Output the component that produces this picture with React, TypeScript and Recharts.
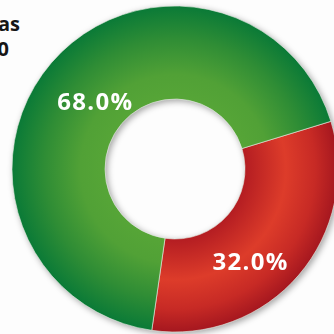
import React from "react";
import { PieChart, Pie, Cell } from "recharts";

const categories = ["B", "A"];
const values = [32.0, 68.0];
const labels = ["32.0%", "68.0%"];
const fills = ["url(#gRed)", "url(#gGreen)"];
const titleFragments = ["as", "0"];

const data = categories.map((c, i) => ({ name: c, value: values[i], label: labels[i] }));

const RAD = Math.PI / 180;
const W = 334;
const CX = 175;
const CY = 169;

const renderLabel = (props: any) => {
  const { cx, cy, midAngle, index } = props;
  const r = index === 0 ? 119 : 105;
  const a = index === 0 ? midAngle - 10 : midAngle;
  const x = cx + r * Math.cos(-a * RAD);
  const y = cy + r * Math.sin(-a * RAD);
  return (
    <text
      x={x}
      y={y}
      fill="#ffffff"
      textAnchor="middle"
      dominantBaseline="central"
      fontFamily="'Open Sans', sans-serif"
      fontWeight={700}
      fontSize={24}
      letterSpacing={1.3}
    >
      {data[index].label}
    </text>
  );
};

export default function App() {
  return (
    <div style={{ position: "relative", width: W - 16, height: W - 16 }}>
      <div style={{ position: "fixed", left: 0, top: 0, width: W, height: W, background: "#fdfdfd" }} />
      <div style={{ position: "fixed", left: 0, top: 0, filter: "drop-shadow(2px 2px 3px rgba(0,0,0,0.35))" }}>
        <PieChart width={W} height={W} margin={{ top: 0, right: 0, bottom: 0, left: 0 }}>
          <defs>
            <radialGradient id="gGreen" gradientUnits="userSpaceOnUse" cx={CX} cy={CY} r={163}>
              <stop offset="0.43" stopColor="#56a537" />
              <stop offset="0.58" stopColor="#51a136" />
              <stop offset="0.8" stopColor="#2f8d35" />
              <stop offset="1" stopColor="#0a7a37" />
            </radialGradient>
            <radialGradient id="gRed" gradientUnits="userSpaceOnUse" cx={CX} cy={CY} r={163}>
              <stop offset="0.43" stopColor="#b41d22" />
              <stop offset="0.68" stopColor="#dd3c2a" />
              <stop offset="0.86" stopColor="#c72a25" />
              <stop offset="1" stopColor="#a5171f" />
            </radialGradient>
          </defs>
          <Pie
            data={data}
            dataKey="value"
            cx={CX}
            cy={CY}
            innerRadius={70}
            outerRadius={163}
            startAngle={17}
            endAngle={-343}
            stroke="#e6eee4"
            strokeWidth={0.6}
            label={renderLabel}
            labelLine={false}
            isAnimationActive={false}
          >
            {data.map((d, i) => (
              <Cell key={d.name} fill={fills[i]} />
            ))}
          </Pie>
        </PieChart>
      </div>
      <svg width={W} height={W} style={{ position: "fixed", left: 0, top: 0, pointerEvents: "none", overflow: "visible" }}>
        <text x={20} y={31} textAnchor="end" fontFamily="'Open Sans', sans-serif" fontWeight={700} fontSize={20} fill="#161616">
          {titleFragments[0]}
        </text>
        <text x={9} y={56} textAnchor="end" fontFamily="'Open Sans', sans-serif" fontWeight={700} fontSize={20} fill="#161616">
          {titleFragments[1]}
        </text>
      </svg>
    </div>
  );
}
